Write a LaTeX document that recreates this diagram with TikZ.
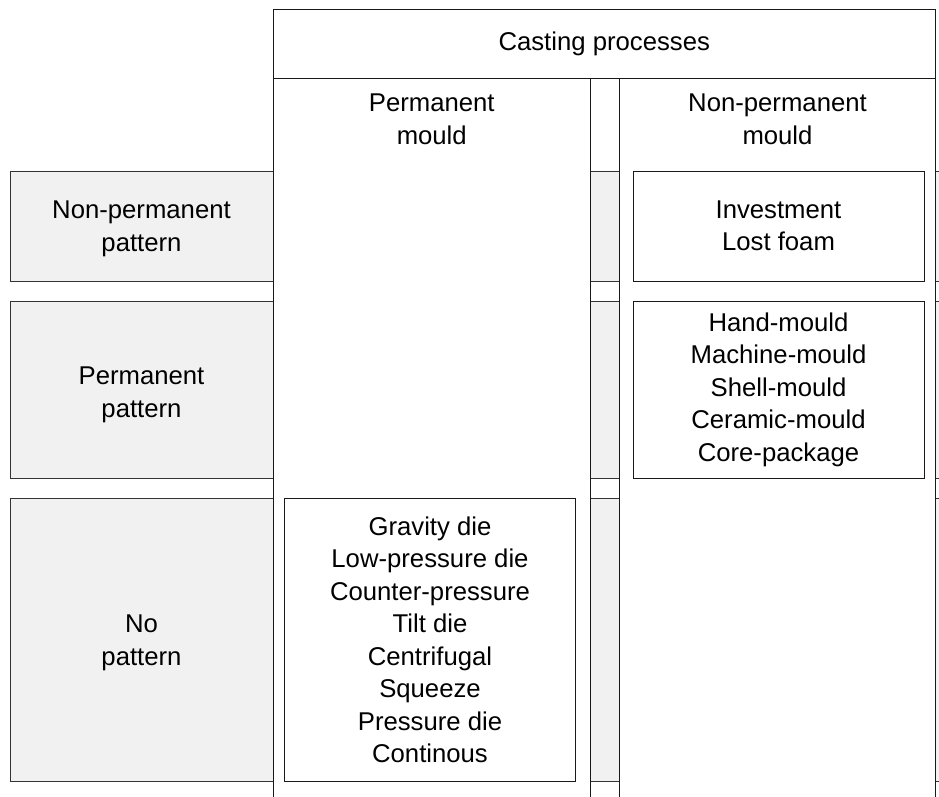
\documentclass[tikz,border=0pt]{standalone}
\usepackage{fontspec}
\setmainfont{Liberation Sans}
\usepackage{tikz}
\usetikzlibrary{positioning, calc}
\definecolor{rowgray}{HTML}{F1F1F1}
\definecolor{edgegray}{HTML}{333333}

\begin{document}
\begin{tikzpicture}[
    x=1pt, y=-1pt,
    % filas grises (tipo de modelo)
    rowbox/.style={draw=edgegray, fill=rowgray, line width=1pt,
        minimum width=950pt, inner sep=0pt},
    % columnas blancas (tipo de molde)
    colbox/.style={draw=black!90, fill=white, line width=1pt, inner sep=0pt},
    % cajas interiores con los procesos
    procbox/.style={draw=black!90, fill=white, line width=1pt,
        minimum width=291pt, align=center, inner sep=0pt},
    % textos
    txt/.style={align=center, inner sep=0pt,
        font=\fontsize{25.7pt}{32.5pt}\selectfont}
]
    \useasboundingbox (0,0) rectangle (939,796);
    \clip (0,0) rectangle (939,796);

    % --- FILAS ---
    \node[rowbox, minimum height=110pt] (nonpermpat) at (485, 226)   {};
    \node[rowbox, minimum height=177pt] (permpat)    at (485, 389.5) {};
    \node[rowbox, minimum height=283pt] (nopat)      at (485, 640)   {};

    \node[txt] (nonpermpatlbl) at (141.5, 229) {Non-permanent\\pattern};
    \node[txt] (permpatlbl)    at (141.5, 395) {Permanent\\pattern};
    \node[txt] (nopatlbl)      at (141.5, 643) {No\\pattern};

    % --- COLUMNAS ---
    \node[colbox, minimum width=317.5pt, minimum height=742pt] (permmould)    at (431.75, 449) {};
    \node[colbox, minimum width=316pt,   minimum height=742pt] (nonpermmould) at (777.5, 449)  {};

    \node[txt] (permmouldlbl)    at ($(permmould.north)+(0,42)$)    {Permanent\\mould};
    \node[txt] (nonpermmouldlbl) at ($(nonpermmould.north)+(0,42)$) {Non-permanent\\mould};

    % --- CABECERA ---
    \node[colbox, txt, minimum width=662.5pt, minimum height=69pt] (casting) at (604.25, 43.5) {Casting processes};

    % --- PROCESOS ---
    \node[procbox, txt, minimum width=291pt, minimum height=110pt] (investment) at (778.5, 226)
        {Investment\\Lost foam};
    \node[procbox, txt, minimum width=291pt, minimum height=177pt] (handmould) at (778.5, 389.5)
        {Hand-mould\\Machine-mould\\Shell-mould\\Ceramic-mould\\Core-package};
    \node[procbox, txt, minimum width=291pt, minimum height=283pt] (gravity) at (430, 640)
        {Gravity die\\Low-pressure die\\Counter-pressure\\Tilt die\\Centrifugal\\Squeeze\\Pressure die\\Continous};

\end{tikzpicture}
\end{document}
